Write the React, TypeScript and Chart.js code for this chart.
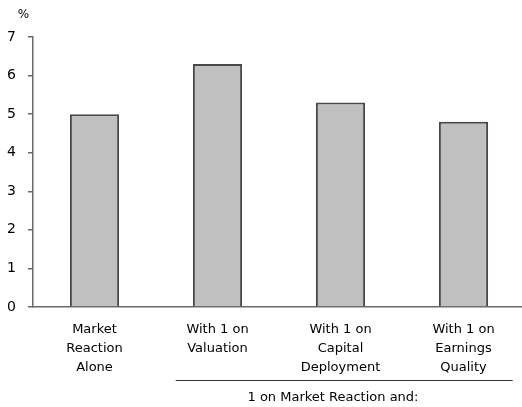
import React, { useEffect, useRef } from "react";
import { Chart, registerables } from "chart.js";

Chart.register(...registerables);

const categories: string[][] = [
  ["Market", "Reaction", "Alone"],
  ["With 1 on", "Valuation"],
  ["With 1 on", "Capital", "Deployment"],
  ["With 1 on", "Earnings", "Quality"],
];
const values: number[] = [5.0, 6.3, 5.3, 4.8];
const yTicks: number[] = [0, 1, 2, 3, 4, 5, 6, 7];
const unitLabel = "%";
const groupLabel = "1 on Market Reaction and:";

const FONT = "'DejaVu Sans', sans-serif";

const annotations = {
  id: "annotations",
  afterDraw(chart: any) {
    const ctx = chart.ctx;
    const x = chart.scales.x;
    const cw = x.getPixelForValue(1) - x.getPixelForValue(0);
    ctx.save();
    ctx.fillStyle = "#000";
    ctx.font = `12px ${FONT}`;
    ctx.textAlign = "center";
    ctx.textBaseline = "middle";
    ctx.fillText(unitLabel, 23.5, 15);
    // bracket line under grouped categories
    const x1 = x.getPixelForValue(1) - cw * 0.34;
    const x2 = x.getPixelForValue(3) + cw * 0.4;
    ctx.strokeStyle = "#333";
    ctx.lineWidth = 1;
    ctx.beginPath();
    ctx.moveTo(x1, 380.5);
    ctx.lineTo(x2, 380.5);
    ctx.stroke();
    ctx.font = `13px ${FONT}`;
    ctx.fillText(groupLabel, 333, 398);
    ctx.restore();
  },
};

export default function App() {
  const ref = useRef<HTMLCanvasElement>(null);
  useEffect(() => {
    document.body.style.margin = "0";
    document.body.style.overflow = "hidden";
    const chart = new Chart(ref.current!, {
      type: "bar",
      data: {
        labels: categories,
        datasets: [
          {
            data: values,
            backgroundColor: "#c0c0c0",
            borderColor: "#484848",
            borderWidth: 2,
            barPercentage: 0.4,
            categoryPercentage: 1,
          },
        ],
      },
      options: {
        responsive: false,
        animation: false,
        layout: { padding: { top: 37, right: 5, left: 0, bottom: 0 } },
        plugins: { legend: { display: false }, tooltip: { enabled: false } },
        scales: {
          x: {
            grid: { display: false },
            border: { display: true, color: "#6a6a6a", width: 1.5 },
            ticks: {
              color: "#000",
              padding: 5,
              maxRotation: 0,
              autoSkip: false,
              font: { family: FONT, size: 13, lineHeight: 1.46 },
            },
            afterFit(scale: any) {
              scale.height = 100;
            },
          },
          y: {
            min: 0,
            max: 7,
            afterBuildTicks(scale: any) {
              scale.ticks = yTicks.map((v) => ({ value: v }));
            },
            grid: {
              display: true,
              drawOnChartArea: false,
              drawTicks: true,
              tickLength: 5,
              color: "#6a6a6a",
              lineWidth: 1.5,
            },
            border: { display: true, color: "#6a6a6a", width: 1.5 },
            ticks: {
              color: "#000",
              padding: 12,
              font: { family: FONT, size: 14 },
            },
            afterFit(scale: any) {
              scale.width = 33;
            },
          },
        },
      },
      plugins: [annotations],
    });
    return () => chart.destroy();
  }, []);
  return (
    <div style={{ width: 522, height: 407, overflow: "hidden", position: "relative" }}>
      <canvas ref={ref} width={530} height={407} style={{ display: "block" }} />
    </div>
  );
}
